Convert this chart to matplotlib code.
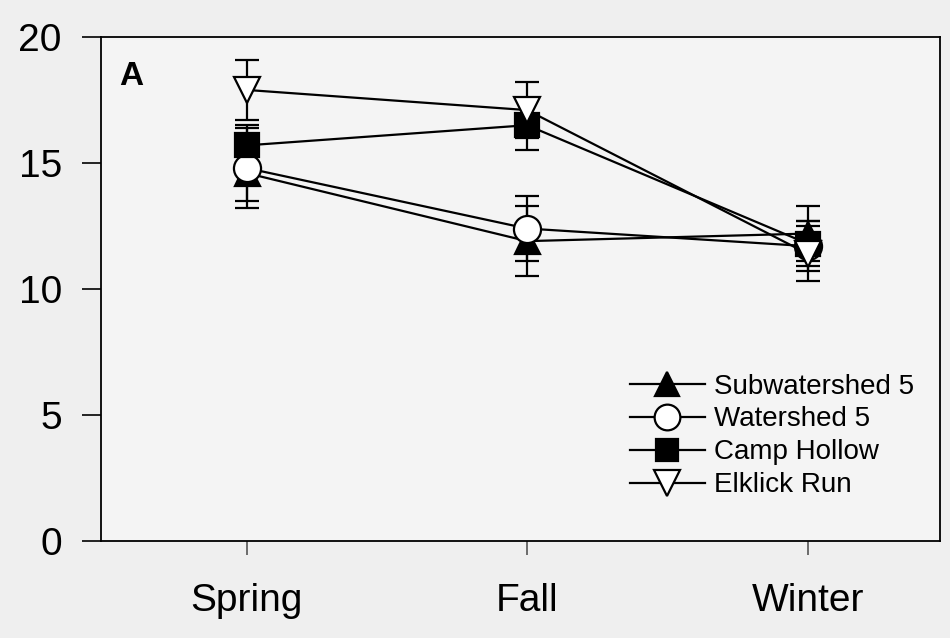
import numpy as np
import matplotlib.pyplot as plt
from matplotlib.lines import Line2D

plt.rcParams['font.family'] = ['Liberation Sans', 'DejaVu Sans']

seasons = ['Spring', 'Fall', 'Winter']

sub5_mean = [14.6, 11.9, 12.2]
sub5_err = [1.1, 1.4, 1.1]
ws5_mean = [14.8, 12.4, 11.7]
ws5_err = [1.6, 1.3, 1.0]
camp_mean = [15.7, 16.5, 11.8]
camp_err = [0.8, 1.0, 0.9]
elk_mean = [17.9, 17.1, 11.4]
elk_err = [1.2, 1.1, 1.1]

x = np.arange(len(seasons))

fig = plt.figure(figsize=(9.5, 6.38), dpi=100, facecolor='#efefef')
ax = fig.add_axes([0.106, 0.152, 0.883, 0.79])
ax.set_facecolor('#f4f4f4')

series = [
    ('Subwatershed 5', sub5_mean, sub5_err, '^', 'black', 18),
    ('Watershed 5', ws5_mean, ws5_err, 'o', 'white', 19.5),
    ('Camp Hollow', camp_mean, camp_err, 's', 'black', 17),
    ('Elklick Run', elk_mean, elk_err, 'v', 'white', 19),
]

handles = []
for name, m, e, mk, fc, ms in series:
    ax.errorbar(x, m, yerr=e, color='black', lw=1.6, elinewidth=1.6,
                capsize=8.5, capthick=1.6, marker=mk, ms=ms, mfc=fc,
                mec='black', mew=1.6)
    handles.append(Line2D([], [], color='black', lw=1.6, marker=mk, ms=ms * 0.95,
                          mfc=fc, mec='black', mew=1.6, label=name))

ax.set_xlim(-0.52, 2.47)
ax.set_ylim(0, 20)
ax.set_xticks(x)
ax.set_xticklabels(seasons)
ax.set_yticks([0, 5, 10, 15, 20])
ax.tick_params(axis='y', direction='out', length=14, width=1.2, labelsize=28, pad=14)
ax.tick_params(axis='x', direction='out', length=10, width=1.2, labelsize=28, pad=20,
               color='#555555')
for s in ax.spines.values():
    s.set_linewidth(1.3)

ax.text(0.022, 0.905, 'A', transform=ax.transAxes, fontsize=24, fontweight='bold')

ax.legend(handles=handles, loc='lower right', bbox_to_anchor=(1.0, 0.035),
          frameon=False, fontsize=20, handlelength=2.7, handletextpad=0.35,
          labelspacing=0.25)

plt.savefig('out.png', dpi=100, facecolor=fig.get_facecolor())
